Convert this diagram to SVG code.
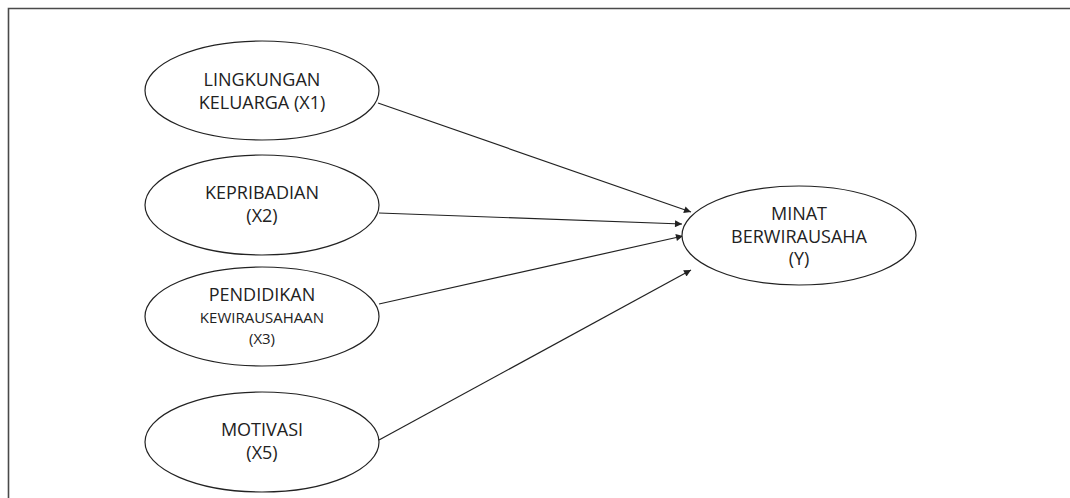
<svg xmlns="http://www.w3.org/2000/svg" width="1070" height="498" viewBox="0 0 1070 498">
<style>
  .node ellipse { fill: #ffffff; stroke: #222222; stroke-width: 1.2; }
  .node text { font-family: "Open Sans", "Liberation Sans", sans-serif; font-size: 18px; fill: #222222; text-anchor: middle; }
  .node text.sm { font-size: 15px; }
  .conn line { stroke: #222222; stroke-width: 1.2; marker-end: url(#arr); }
  .frame { fill: none; stroke: #4a4a4a; stroke-width: 1.6; }
</style>
<defs>
  <marker id="arr" viewBox="0 0 10 10" refX="10" refY="5" markerWidth="9" markerHeight="7" markerUnits="userSpaceOnUse" orient="auto">
    <path d="M0,0 L10,5 L0,10 z" fill="#222222"/>
  </marker>
</defs>
<rect width="1070" height="498" fill="#ffffff"/>
<polyline class="frame" points="8.5,498 8.5,8.5 1070,8.5"/>

<g id="connectors" class="conn">
  <line x1="378" y1="103" x2="691" y2="212"/>
  <line x1="379" y1="213" x2="682" y2="224"/>
  <line x1="379" y1="304" x2="683" y2="236"/>
  <line x1="379" y1="440" x2="691" y2="270"/>
</g>

<g id="x1" class="node">
  <ellipse cx="262" cy="90.5" rx="117" ry="49.5"/>
  <text x="262" y="86">LINGKUNGAN</text>
  <text x="262" y="109">KELUARGA (X1)</text>
</g>
<g id="x2" class="node">
  <ellipse cx="262" cy="205" rx="117" ry="50"/>
  <text x="262" y="199">KEPRIBADIAN</text>
  <text x="262" y="222">(X2)</text>
</g>
<g id="x3" class="node">
  <ellipse cx="262" cy="316.5" rx="117" ry="49.5"/>
  <text x="262" y="301">PENDIDIKAN</text>
  <text class="sm" x="262" y="323">KEWIRAUSAHAAN</text>
  <text class="sm" x="262" y="344">(X3)</text>
</g>
<g id="x5" class="node">
  <ellipse cx="262" cy="442" rx="117" ry="50"/>
  <text x="262" y="436">MOTIVASI</text>
  <text x="262" y="459">(X5)</text>
</g>
<g id="y" class="node">
  <ellipse cx="799" cy="235.5" rx="117" ry="49.5"/>
  <text x="799" y="220">MINAT</text>
  <text x="799" y="243">BERWIRAUSAHA</text>
  <text x="799" y="265">(Y)</text>
</g>
</svg>
